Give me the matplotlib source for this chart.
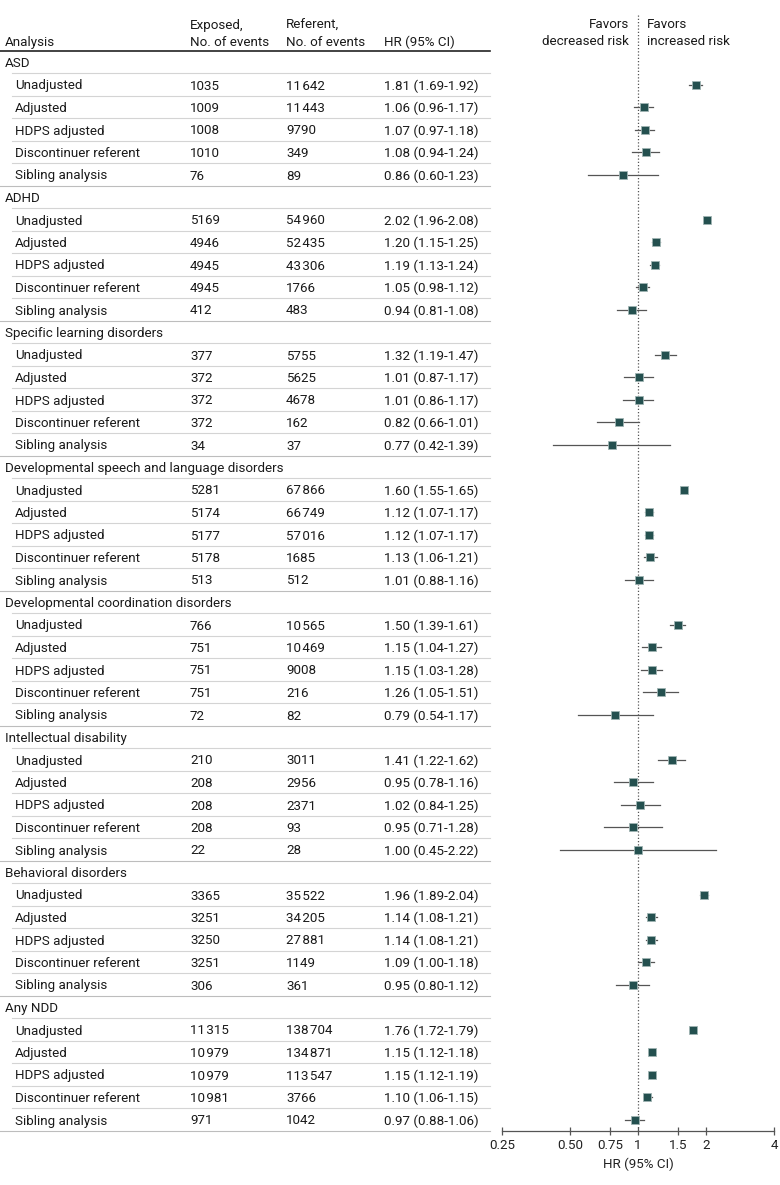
import matplotlib
matplotlib.use("Agg")
import matplotlib.pyplot as plt
from matplotlib.transforms import blended_transform_factory
from matplotlib.lines import Line2D

plt.rcParams['font.family'] = ['Roboto', 'DejaVu Sans']

groups = ["ASD", "ADHD", "Specific learning disorders",
          "Developmental speech and language disorders",
          "Developmental coordination disorders", "Intellectual disability",
          "Behavioral disorders", "Any NDD"]
analyses = ["Unadjusted", "Adjusted", "HDPS adjusted", "Discontinuer referent", "Sibling analysis"]

exposed = [
    [1035, 1009, 1008, 1010, 76],
    [5169, 4946, 4945, 4945, 412],
    [377, 372, 372, 372, 34],
    [5281, 5174, 5177, 5178, 513],
    [766, 751, 751, 751, 72],
    [210, 208, 208, 208, 22],
    [3365, 3251, 3250, 3251, 306],
    [11315, 10979, 10979, 10981, 971],
]
referent = [
    [11642, 11443, 9790, 349, 89],
    [54960, 52435, 43306, 1766, 483],
    [5755, 5625, 4678, 162, 37],
    [67866, 66749, 57016, 1685, 512],
    [10565, 10469, 9008, 216, 82],
    [3011, 2956, 2371, 93, 28],
    [35522, 34205, 27881, 1149, 361],
    [138704, 134871, 113547, 3766, 1042],
]
hr = [
    [1.81, 1.06, 1.07, 1.08, 0.86],
    [2.02, 1.20, 1.19, 1.05, 0.94],
    [1.32, 1.01, 1.01, 0.82, 0.77],
    [1.60, 1.12, 1.12, 1.13, 1.01],
    [1.50, 1.15, 1.15, 1.26, 0.79],
    [1.41, 0.95, 1.02, 0.95, 1.00],
    [1.96, 1.14, 1.14, 1.09, 0.95],
    [1.76, 1.15, 1.15, 1.10, 0.97],
]
lo = [
    [1.69, 0.96, 0.97, 0.94, 0.60],
    [1.96, 1.15, 1.13, 0.98, 0.81],
    [1.19, 0.87, 0.86, 0.66, 0.42],
    [1.55, 1.07, 1.07, 1.06, 0.88],
    [1.39, 1.04, 1.03, 1.05, 0.54],
    [1.22, 0.78, 0.84, 0.71, 0.45],
    [1.89, 1.08, 1.08, 1.00, 0.80],
    [1.72, 1.12, 1.12, 1.06, 0.88],
]
hi = [
    [1.92, 1.17, 1.18, 1.24, 1.23],
    [2.08, 1.25, 1.24, 1.12, 1.08],
    [1.47, 1.17, 1.17, 1.01, 1.39],
    [1.65, 1.17, 1.17, 1.21, 1.16],
    [1.61, 1.27, 1.28, 1.51, 1.17],
    [1.62, 1.16, 1.25, 1.28, 2.22],
    [2.04, 1.21, 1.21, 1.18, 1.12],
    [1.79, 1.18, 1.19, 1.15, 1.06],
]
xticks = [0.25, 0.50, 0.75, 1, 1.5, 2, 4]
xticklabels = ["0.25", "0.50", "0.75", "1", "1.5", "2", "4"]

W, H = 780, 1185
fig = plt.figure(figsize=(W / 100, H / 100), dpi=100)

ROW0, STEP = 62.0, 22.5
top_px, bot_px = 15.0, 1131.0
ax = fig.add_axes([502 / W, 1 - bot_px / H, (774 - 502) / W, (bot_px - top_px) / H])
ax.set_xscale('log', base=2)
ax.set_xlim(0.25, 4)
ax.set_ylim((bot_px - ROW0) / STEP, (top_px - ROW0) / STEP)
for s in ['top', 'right', 'left']:
    ax.spines[s].set_visible(False)
ax.spines['bottom'].set_color('#555555')
ax.spines['bottom'].set_linewidth(0.9)
ax.set_yticks([])
ax.set_xticks(xticks)
ax.set_xticklabels(xticklabels)
ax.minorticks_off()
fs = 9.6
ax.tick_params(axis='x', direction='inout', length=6, width=0.9, color='#555555',
               labelsize=fs, labelcolor='#222222', pad=3)
ax.set_xlabel("HR (95% CI)", fontsize=fs, color='#222222', labelpad=4)
ax.axvline(1, color='#555555', lw=0.9, ls=(0, (1, 1.6)))
ax.patch.set_alpha(0)

tr = blended_transform_factory(fig.transFigure, ax.transData)
tc = '#1a1a1a'
VA = 'center_baseline'
X_ANA, X_SUB, X_EXP, X_REF, X_HR = 5, 15, 190, 286, 384
LINE_L_SUB, LINE_R = 12, 490


def fmt(n):
    s = str(n)
    if len(s) <= 4:
        return s
    return s[:-3] + "\u200a" + s[-3:]


def hline(y, x0, x1, color='#d4d4d4', lw=0.8):
    fig.add_artist(Line2D([x0 / W, x1 / W], [y, y], transform=tr, color=color, lw=lw))


def txt(x, y, s, **kw):
    fig.text(x / W, y, s, transform=tr, fontsize=fs, color=tc, va=VA, **kw)


# header
hdr_y1 = (24 - ROW0) / STEP
hdr_y2 = (41 - ROW0) / STEP
txt(X_ANA, hdr_y2, "Analysis")
txt(X_EXP, hdr_y1, "Exposed,")
txt(X_EXP, hdr_y2, "No. of events")
txt(X_REF, hdr_y1, "Referent,")
txt(X_REF, hdr_y2, "No. of events")
txt(X_HR, hdr_y2, "HR (95% CI)")
hline((51 - ROW0) / STEP, 0, LINE_R, color='#222222', lw=1.2)

txt(629, hdr_y1 - 0.05, "Favors", ha='right')
txt(629, hdr_y2 - 0.05, "decreased risk", ha='right')
txt(647, hdr_y1 - 0.05, "Favors", ha='left')
txt(647, hdr_y2 - 0.05, "increased risk", ha='left')

mcol = '#24504f'
row = 0
for g, name in enumerate(groups):
    txt(X_ANA, row, name)
    hline(row + 0.5, LINE_L_SUB, LINE_R)
    row += 1
    for k, a in enumerate(analyses):
        txt(X_SUB, row, a)
        txt(X_EXP, row, fmt(exposed[g][k]))
        txt(X_REF, row, fmt(referent[g][k]))
        txt(X_HR, row, f"{hr[g][k]:.2f} ({lo[g][k]:.2f}-{hi[g][k]:.2f})")
        if k < len(analyses) - 1:
            hline(row + 0.5, LINE_L_SUB, LINE_R)
        else:
            hline(row + 0.5, 0, LINE_R, color='#bdbdbd')
        ax.plot([lo[g][k], hi[g][k]], [row, row], color='#555555', lw=0.9, zorder=2)
        ax.plot([hr[g][k]], [row], marker='s', ms=6.2, color=mcol, mec='#9fb3b2', mew=0.6, zorder=3)
        row += 1

fig.savefig("out.png", dpi=100)
